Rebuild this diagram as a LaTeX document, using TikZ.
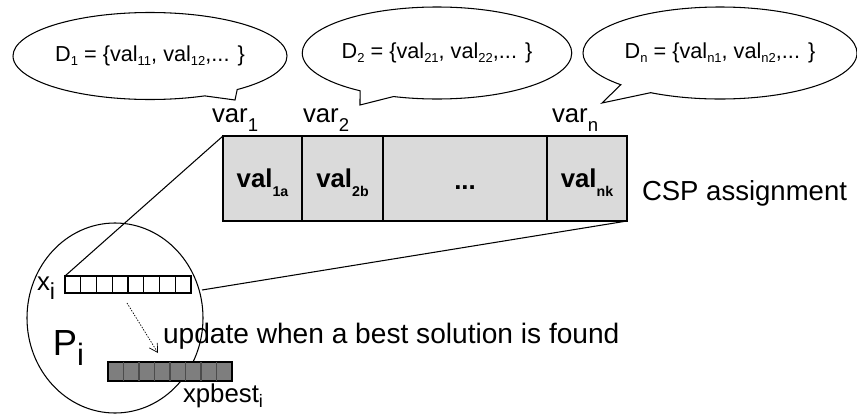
\documentclass[tikz,border=0pt]{standalone}
\usepackage{fontspec}
\usepackage{graphicx}
\setmainfont{Liberation Sans}
\usetikzlibrary{shapes.callouts,shapes.geometric,arrows.meta}
\newcommand\fsz[1]{\fontsize{#1}{#1}\selectfont}
\newcommand\sbs[3]{\raisebox{-#2}{\scalebox{#1}{#3}}}
\definecolor{csp}{HTML}{DADADA}
\definecolor{best}{HTML}{7E7E7E}
\begin{document}
\begin{tikzpicture}[x=0.03cm,y=-0.03cm,line width=0.9pt,
  every node/.style={inner sep=0pt,outer sep=0pt},
  balloon/.style={ellipse callout,draw,callout pointer arc=16,font=\fsz{18.5}},
  cellbox/.style={draw,fill=csp,minimum height=2.55cm},
  lbl/.style={anchor=base west},
  valtxt/.style={anchor=base,font=\fsz{22}\bfseries}]
\useasboundingbox (0,0) rectangle (857,414);

% domain balloons
\node[balloon,minimum width=8.22cm,minimum height=2.61cm,
  callout absolute pointer={(235,100)}] (b1) at (150,56)
  {D\sbs{0.6}{0.2em}{1} = \{val\sbs{0.6}{0.2em}{11}, val\sbs{0.6}{0.2em}{12},... \}};
\node[balloon,minimum width=7.77cm,minimum height=2.76cm,
  callout absolute pointer={(360,105)}] (b2) at (437,53)
  {D\sbs{0.6}{0.2em}{2} = \{val\sbs{0.6}{0.2em}{21}, val\sbs{0.6}{0.2em}{22},... \}};
\node[balloon,minimum width=8.22cm,minimum height=2.76cm,
  callout absolute pointer={(602,103)}] (b3) at (720,53)
  {D\sbs{0.6}{0.2em}{n} = \{val\sbs{0.6}{0.2em}{n1}, val\sbs{0.6}{0.2em}{n2},... \}};

% variable labels
\node[lbl,font=\fsz{22}] (v1) at (212,122) {var\sbs{0.72}{0.38em}{1}};
\node[lbl,font=\fsz{22}] (v2) at (303,122) {var\sbs{0.72}{0.38em}{2}};
\node[lbl,font=\fsz{22}] (vn) at (552,122) {var\sbs{0.72}{0.38em}{n}};

% CSP assignment array
\node[cellbox,minimum width=2.37cm] (c1) at (262.5,178.5) {};
\node[cellbox,minimum width=2.43cm] (c2) at (342.5,178.5) {};
\node[cellbox,minimum width=4.92cm] (c3) at (465,178.5) {};
\node[cellbox,minimum width=2.40cm] (c4) at (587,178.5) {};
\node[valtxt] (t1) at (262.5,187) {val\sbs{0.55}{0.38em}{1a}};
\node[valtxt] (t2) at (342.5,187) {val\sbs{0.55}{0.38em}{2b}};
\node[valtxt] (t3) at (465,189) {...};
\node[valtxt] (t4) at (587,187) {val\sbs{0.55}{0.38em}{nk}};
\node[lbl,font=\fsz{23.5}] (csp) at (642,200) {CSP assignment};

% particle
\node[ellipse,draw,minimum width=5.28cm,minimum height=5.7cm] (P) at (115,318) {};
\node[lbl,font=\fsz{31}] (Pl) at (53,355) {P\sbs{0.85}{0.3em}{i}};

% x_i array
\node[draw,anchor=north west,minimum width=3.78cm,minimum height=0.51cm] (xarr) at (65,276) {};
\foreach \k in {1,...,7} \draw (65+\k*15.75,276) -- (65+\k*15.75,293);
\node[lbl,font=\fsz{22}] (xl) at (37,290) {x\sbs{0.9}{0.38em}{i}};

% xpbest array
\node[draw,fill=best,anchor=north west,minimum width=3.72cm,minimum height=0.57cm] (xb) at (108,362) {};
\foreach \k in {1,...,7} \draw[black!70] (108+\k*15.5,362) -- (108+\k*15.5,381);
\node[lbl,font=\fsz{22}] (xbl) at (183,402) {xpbest\sbs{0.7}{0.2em}{i}};

% zoom lines
\coordinate (pr) at (202,290);
\draw (c1.north west) -- (xarr.north west);
\draw (c4.south east) -- (pr);

% update arrow
\coordinate (ua) at (127,303);
\coordinate (ub) at (158,353);
\draw[line width=0.6pt,dash pattern=on 1.2pt off 1.2pt,-{Straight Barb[length=7pt,width=8pt]}] (ua) -- (ub);
\node[lbl,font=\fsz{24}] (up) at (163,343) {update when a best solution is found};
\end{tikzpicture}
\end{document}
